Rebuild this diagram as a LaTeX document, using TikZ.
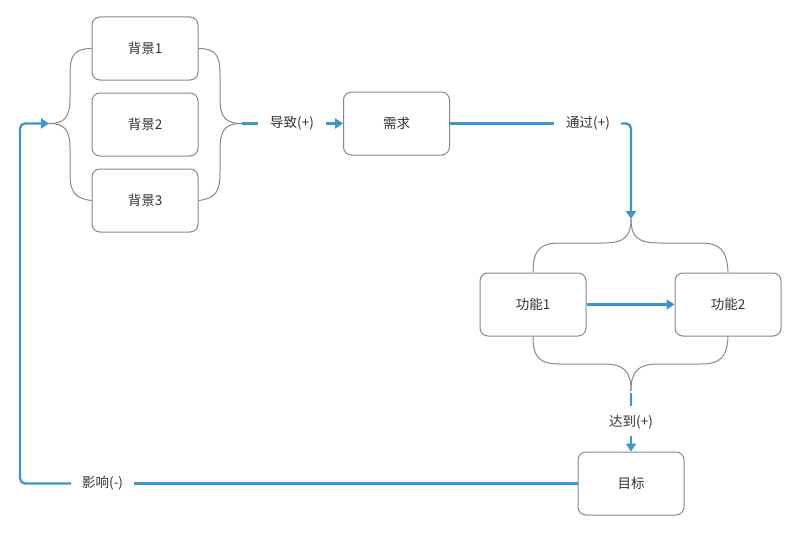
\documentclass[tikz,border=0pt]{standalone}
\usepackage{fontspec}
\setmainfont{Noto Sans CJK SC}
\usetikzlibrary{arrows.meta,positioning}
\definecolor{flow}{RGB}{61,150,201}
\definecolor{rim}{RGB}{136,136,136}
\definecolor{ink}{RGB}{51,51,51}

\begin{document}
\begin{tikzpicture}[x=1pt,y=-1pt,>={Triangle[length=8pt,width=10pt]},
  box/.style={draw=rim,line width=1pt,rounded corners=8pt,minimum width=106pt,minimum height=63pt,text=ink,font=\fontsize{13.5}{15}\selectfont},
  lbl/.style={text=ink,font=\fontsize{13.5}{15}\selectfont,inner sep=0pt},
  flowline/.style={draw=flow,line width=2.3pt},
  brace/.style={draw=rim,line width=1pt}]
\useasboundingbox (0,0) rectangle (800,535);

\node[box] (bg1) at (145,48.5) {背景1};
\node[box,below=12pt of bg1] (bg2) {背景2};
\node[box,below=12pt of bg2] (bg3) {背景3};
\node[box] (need) at (396.5,123.5) {需求};
\node[box] (f1) at (533,304.5) {功能1};
\node[box,right=88pt of f1] (f2) {功能2};
\node[box] (goal) at (631,483.5) {目标};

\node[lbl] (cause) at (292,123.5) {导致(+)};
\node[lbl] (pass) at (588,123.5) {通过(+)};
\node[lbl] (reach) at (631,422) {达到(+)};
\node[lbl,anchor=west] (impact) at (82,483.5) {影响(-)};

\coordinate (lt) at (49,123.5);
\coordinate (rt) at (242,123.5);
\coordinate (tt) at (631,219);
\coordinate (bt) at (631,391);

% braces
\draw[brace] (bg1.west) .. controls (74,48.5) and (70,56) .. (70,74) -- (70,98) .. controls (70,118) and (64,123.5) .. (lt);
\draw[brace] (bg3.west) .. controls (74,198.5) and (70,191) .. (70,173) -- (70,149) .. controls (70,129) and (64,123.5) .. (lt);
\draw[brace] (bg1.east) .. controls (216,48.5) and (220,56) .. (220,74) -- (220,98) .. controls (220,118) and (226,123.5) .. (rt);
\draw[brace] (bg3.east) .. controls (216,198.5) and (220,191) .. (220,173) -- (220,149) .. controls (220,129) and (226,123.5) .. (rt);
\draw[brace] (f1.north) .. controls (533,250) and (540,243) .. (560,243) -- (603,243) .. controls (625,243) and (631,236) .. (tt);
\draw[brace] (f2.north) .. controls (727,250) and (720,243) .. (700,243) -- (659,243) .. controls (637,243) and (631,236) .. (tt);
\draw[brace] (f1.south) .. controls (533,358) and (540,364) .. (560,364) -- (603,364) .. controls (625,364) and (631,372) .. (bt);
\draw[brace] (f2.south) .. controls (727,358) and (720,364) .. (700,364) -- (659,364) .. controls (637,364) and (631,372) .. (bt);

% flow
\draw[flowline] (rt) -- ([xshift=-12pt]cause.west);
\draw[flowline,->] ([xshift=12pt]cause.east) -- (need.west);
\draw[flowline] (need.east) -- ([xshift=-12pt]pass.west);
\draw[flowline,->,rounded corners=5pt] ([xshift=11pt]pass.east) -| (tt);
\draw[flowline,->] (f1) -- (f2);
\draw[flowline] ([yshift=-2pt]bt) -- ([yshift=9pt]reach.north);
\draw[flowline,->] ([yshift=-7pt]reach.south) -- (goal.north);
\draw[flowline] (goal.west) -- ([xshift=11pt]impact.east);
\draw[flowline,->,rounded corners=5pt] ([xshift=-11pt]impact.west) -| ([xshift=-29pt]lt) -- (lt);
\end{tikzpicture}
\end{document}
